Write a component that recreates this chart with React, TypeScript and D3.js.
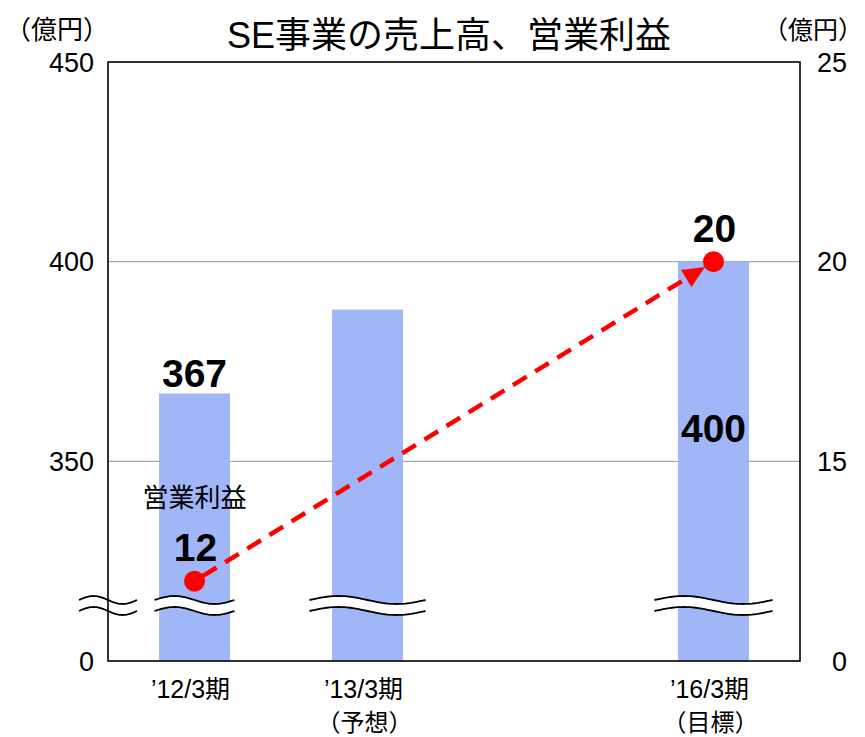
import React from 'react';
import * as d3 from 'd3';

// ---- data ----
const slots = ['FY12', 'FY13', 'gap', 'FY16'];
const categoryLabels = ['’12/3期', '’13/3期', '', '’16/3期'];
const categorySubLabels = ['', '（予想）', '', '（目標）'];
const salesValues: (number | null)[] = [367, 388, null, 400];
const salesLabelPlacement: (string | null)[] = ['above', null, null, 'inside'];
const profitSlots = ['FY12', 'FY16'];
const profitValues = [12, 20];
const leftTicks = [450, 400, 350];
const rightTicks = [25, 20, 15];
const baseTickLabel = '0';
const title = 'SE事業の売上高、営業利益';
const unitLabel = '（億円）';
const profitSeriesLabel = '営業利益';

// ---- layout ----
const W = 865;
const H = 737;
const X0 = 108;
const X1 = 800;
const YT = 62;
const YB = 661;
const FONT = '"Liberation Sans", Arial, "Noto Sans CJK JP", sans-serif';
const BAR = '#a0b6f6';
const RED = '#ff0000';
const breakHalfWidths = [40, 58, 0, 59];

export default function App() {
  const x = d3.scaleBand().domain(slots).range([X0, X1]).padding(0);
  const cx = (s: string) => (x(s) as number) + x.bandwidth() / 2;
  const barW = x.bandwidth() * 0.41;
  const yL = d3.scaleLinear().domain([300, 450]).range([YB, YT]);
  const yR = d3.scaleLinear().domain([10, 25]).range([YB, YT]);

  const waveY1 = YB - 61;
  const waveY2 = YB - 50;
  const amp = 4;
  const wave = (c: number, hw: number, yc: number) =>
    d3.range(0, 41).map((i) => {
      const t = i / 40;
      return [c - hw + 2 * hw * t, yc - amp * Math.sin(2 * Math.PI * t)] as [number, number];
    });
  const line = d3.line();

  const p = profitSlots.map((s, i) => [cx(s), yR(profitValues[i])]);
  const [p1, p2] = p;
  const dx = p2[0] - p1[0];
  const dy = p2[1] - p1[1];
  const len = Math.hypot(dx, dy);
  const ux = dx / len;
  const uy = dy / len;
  const tip = [p2[0] - ux * 10, p2[1] - uy * 10];
  const base = [tip[0] - ux * 22, tip[1] - uy * 22];
  const nx = -uy;
  const ny = ux;
  const head = `M${tip[0]},${tip[1]}L${base[0] + nx * 10},${base[1] + ny * 10}L${base[0] - nx * 10},${base[1] - ny * 10}Z`;

  const breaks: { c: number; hw: number; fill: boolean }[] = [{ c: X0, hw: 29, fill: false }];
  slots.forEach((s, i) => {
    if (salesValues[i] != null) breaks.push({ c: cx(s), hw: breakHalfWidths[i], fill: true });
  });

  return (
    <svg width={W} height={H} style={{ position: 'absolute', left: 0, top: 0, background: '#fff' }} fontFamily={FONT}>
      <rect width={W} height={H} fill="#fff" />
      {/* gridlines */}
      {leftTicks.filter((t) => t !== 450).map((t) => (
        <line key={t} x1={X0} x2={X1} y1={yL(t)} y2={yL(t)} stroke="#a6a6a6" strokeWidth={1.2} />
      ))}
      {/* bars */}
      {slots.map((s, i) =>
        salesValues[i] == null ? null : (
          <rect key={s} x={cx(s) - barW / 2} width={barW} y={yL(salesValues[i] as number)} height={YB - yL(salesValues[i] as number)} fill={BAR} />
        )
      )}
      {/* frame */}
      <rect x={X0} y={YT} width={X1 - X0} height={YB - YT} fill="none" stroke="#000" strokeWidth={1.6} />
      {/* axis breaks */}
      {breaks.map((b, i) => {
        const a = wave(b.c, b.hw, waveY1);
        const c2 = wave(b.c, b.hw, waveY2);
        const band = line(a.concat(c2.slice().reverse())) + 'Z';
        return (
          <g key={i}>
            {b.fill && <path d={band} fill="#fff" />}
            <path d={line(a) as string} fill="none" stroke="#000" strokeWidth={1.8} />
            <path d={line(c2) as string} fill="none" stroke="#000" strokeWidth={1.8} />
          </g>
        );
      })}
      {/* tick labels */}
      {leftTicks.map((t) => (
        <text key={t} x={94} y={yL(t)} dy="0.36em" textAnchor="end" fontSize={27}>{t}</text>
      ))}
      <text x={94} y={YB} dy="0.36em" textAnchor="end" fontSize={27}>{baseTickLabel}</text>
      {rightTicks.map((t) => (
        <text key={t} x={847} y={yR(t)} dy="0.36em" textAnchor="end" fontSize={27}>{t}</text>
      ))}
      <text x={847} y={YB} dy="0.36em" textAnchor="end" fontSize={27}>{baseTickLabel}</text>
      {/* units */}
      <text x={57} y={39} textAnchor="middle" fontSize={26}>{unitLabel}</text>
      <text x={813} y={39} textAnchor="middle" fontSize={25}>{unitLabel}</text>
      {/* title */}
      <text x={449} y={48} textAnchor="middle" fontSize={36}>{title}</text>
      {/* category labels */}
      {slots.map((s, i) => (
        <g key={s}>
          <text x={cx(s) - 4} y={698} textAnchor="middle" fontSize={25}>{categoryLabels[i]}</text>
          <text x={cx(s) - 3} y={731} textAnchor="middle" fontSize={24}>{categorySubLabels[i]}</text>
        </g>
      ))}
      {/* sales value labels */}
      {slots.map((s, i) =>
        salesLabelPlacement[i] == null ? null : (
          <text
            key={s}
            x={cx(s)}
            y={salesLabelPlacement[i] === 'above' ? yL(salesValues[i] as number) - 6 : yL(salesValues[i] as number) + 180}
            textAnchor="middle"
            fontSize={39}
            fontWeight="bold"
          >
            {salesValues[i]}
          </text>
        )
      )}
      {/* profit arrow */}
      <line x1={p1[0] + ux * 10} y1={p1[1] + uy * 10} x2={base[0] + ux * 2} y2={base[1] + uy * 2} stroke={RED} strokeWidth={4.5} strokeDasharray="16 10" />
      <path d={head} fill={RED} />
      {p.map((pt, i) => (
        <g key={i}>
          <circle cx={pt[0]} cy={pt[1]} r={10.5} fill={RED} />
          <text x={pt[0] + 1} y={pt[1] - 20} textAnchor="middle" fontSize={39} fontWeight="bold">{profitValues[i]}</text>
        </g>
      ))}
      <text x={cx(profitSlots[0])} y={p1[1] - 74} textAnchor="middle" fontSize={26}>{profitSeriesLabel}</text>
    </svg>
  );
}
